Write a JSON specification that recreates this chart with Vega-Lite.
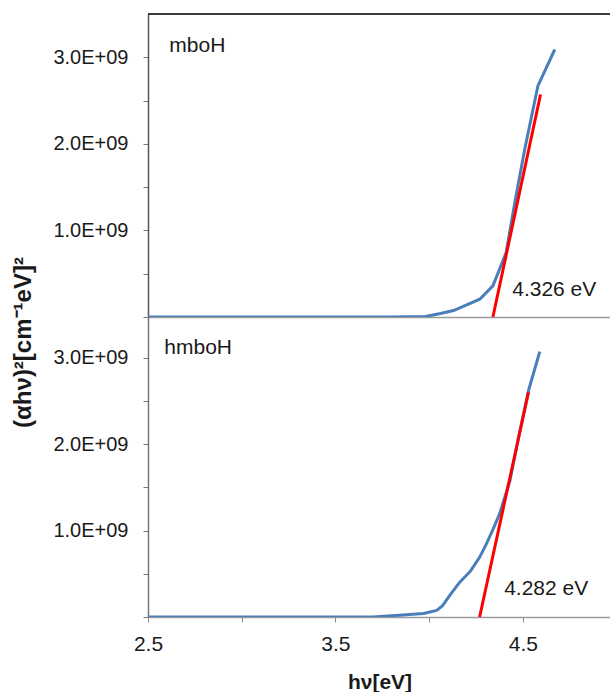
{
  "$schema": "https://vega.github.io/schema/vega-lite/v6.json",
  "padding": {"left": 10, "top": 13, "right": 0, "bottom": 0},
  "background": "white",
  "config": {
    "font": "Liberation Sans",
    "view": {"stroke": null},
    "axis": {"grid": false, "labelFlush": false, "labelFont": "Liberation Sans", "titleFont": "Liberation Sans", "labelColor": "#1a1a1a", "titleColor": "#1a1a1a"}
  },
  "datasets": {
    "curves": [
      {"panel": "mboH", "hv": 2.5, "val": 0},
      {"panel": "mboH", "hv": 3.0, "val": 0},
      {"panel": "mboH", "hv": 3.5, "val": 0},
      {"panel": "mboH", "hv": 3.8, "val": 0},
      {"panel": "mboH", "hv": 3.98, "val": 5000000},
      {"panel": "mboH", "hv": 4.06, "val": 40000000},
      {"panel": "mboH", "hv": 4.13, "val": 75000000},
      {"panel": "mboH", "hv": 4.2, "val": 140000000},
      {"panel": "mboH", "hv": 4.27, "val": 205000000},
      {"panel": "mboH", "hv": 4.34, "val": 360000000},
      {"panel": "mboH", "hv": 4.41, "val": 740000000},
      {"panel": "mboH", "hv": 4.46, "val": 1360000000},
      {"panel": "mboH", "hv": 4.51, "val": 1940000000},
      {"panel": "mboH", "hv": 4.58, "val": 2670000000},
      {"panel": "mboH", "hv": 4.67, "val": 3090000000},
      {"panel": "hmboH", "hv": 2.5, "val": 0},
      {"panel": "hmboH", "hv": 3.0, "val": 0},
      {"panel": "hmboH", "hv": 3.5, "val": 0},
      {"panel": "hmboH", "hv": 3.7, "val": 0},
      {"panel": "hmboH", "hv": 3.86, "val": 23000000},
      {"panel": "hmboH", "hv": 3.97, "val": 40000000},
      {"panel": "hmboH", "hv": 4.04, "val": 77000000},
      {"panel": "hmboH", "hv": 4.07, "val": 127000000},
      {"panel": "hmboH", "hv": 4.11, "val": 250000000},
      {"panel": "hmboH", "hv": 4.162, "val": 400000000},
      {"panel": "hmboH", "hv": 4.22, "val": 530000000},
      {"panel": "hmboH", "hv": 4.269, "val": 690000000},
      {"panel": "hmboH", "hv": 4.304, "val": 840000000},
      {"panel": "hmboH", "hv": 4.34, "val": 1010000000},
      {"panel": "hmboH", "hv": 4.375, "val": 1190000000},
      {"panel": "hmboH", "hv": 4.43, "val": 1570000000},
      {"panel": "hmboH", "hv": 4.48, "val": 2110000000},
      {"panel": "hmboH", "hv": 4.53, "val": 2620000000},
      {"panel": "hmboH", "hv": 4.59, "val": 3070000000}
    ],
    "fits": [
      {"panel": "mboH", "hv": 4.34, "val": 0},
      {"panel": "mboH", "hv": 4.594, "val": 2570000000},
      {"panel": "hmboH", "hv": 4.269, "val": 0},
      {"panel": "hmboH", "hv": 4.53, "val": 2600000000}
    ],
    "labels": [
      {"panel": "mboH", "hv": 2.614, "val": 3130000000, "label": "mboH"},
      {"panel": "mboH", "hv": 4.443, "val": 310000000, "label": "4.326 eV"},
      {"panel": "hmboH", "hv": 2.587, "val": 3110000000, "label": "hmboH"},
      {"panel": "hmboH", "hv": 4.4, "val": 320000000, "label": "4.282 eV"}
    ],
    "frame": [{"top": 3500000000}]
  },
  "vconcat": [
    {
      "width": 463,
      "height": 303,
      "layer": [
        {
          "data": {"name": "frame"},
          "mark": {"type": "rule", "color": "#3a3a3a", "strokeWidth": 2},
          "encoding": {"y": {"field": "top", "type": "quantitative", "scale": {"domain": [0, 3500000000]}}}
        },
        {
          "data": {"name": "curves"},
          "transform": [{"filter": "datum.panel == 'mboH'"}],
          "mark": {"type": "line", "color": "#4a7ebb", "strokeWidth": 3, "clip": true},
          "encoding": {
            "x": {"field": "hv", "type": "quantitative", "scale": {"domain": [2.5, 4.97], "nice": false, "zero": false},
              "axis": {"title": null, "labels": false, "ticks": false, "domainColor": "#9a9a9a", "domainWidth": 1.5}},
            "y": {"field": "val", "type": "quantitative", "scale": {"domain": [0, 3500000000], "nice": false},
              "axis": {"title": null, "values": [0, 500000000, 1000000000, 1500000000, 2000000000, 2500000000, 3000000000],
                "labelExpr": "datum.value > 0 && datum.value % 1000000000 == 0 ? format(datum.value/1000000000, '.1f') + 'E+09' : ''",
                "labelFontSize": 20, "labelPadding": 15, "tickSize": 5, "tickColor": "#777", "domainColor": "#555", "domainWidth": 1.5}}
          }
        },
        {
          "data": {"name": "fits"},
          "transform": [{"filter": "datum.panel == 'mboH'"}],
          "mark": {"type": "line", "color": "#ff0000", "strokeWidth": 3},
          "encoding": {"x": {"field": "hv", "type": "quantitative"}, "y": {"field": "val", "type": "quantitative"}}
        },
        {
          "data": {"name": "labels"},
          "transform": [{"filter": "datum.panel == 'mboH'"}],
          "mark": {"type": "text", "align": "left", "baseline": "middle", "fontSize": 21, "color": "#1a1a1a", "font": "Liberation Sans"},
          "encoding": {"x": {"field": "hv", "type": "quantitative"}, "y": {"field": "val", "type": "quantitative"}, "text": {"field": "label"}}
        }
      ]
    },
    {
      "width": 463,
      "height": 300,
      "layer": [
        {
          "data": {"name": "curves"},
          "transform": [{"filter": "datum.panel == 'hmboH'"}],
          "mark": {"type": "line", "color": "#4a7ebb", "strokeWidth": 3, "clip": true},
          "encoding": {
            "x": {"field": "hv", "type": "quantitative", "scale": {"domain": [2.5, 4.97], "nice": false, "zero": false},
              "axis": {"title": "hν[eV]", "values": [2.5, 3.0, 3.5, 4.0, 4.5],
                "labelExpr": "round(datum.value*2) % 2 == 1 ? format(datum.value, '.1f') : ''",
                "labelFontSize": 21, "labelPadding": 11, "tickSize": 5, "tickColor": "#888", "domainColor": "#9a9a9a", "domainWidth": 1.5,
                "titleFontSize": 21, "titleFontWeight": "bold", "titlePadding": 17}},
            "y": {"field": "val", "type": "quantitative", "scale": {"domain": [0, 3470000000], "nice": false},
              "axis": {"title": "(αhν)²[cm⁻¹eV]²", "values": [0, 500000000, 1000000000, 1500000000, 2000000000, 2500000000, 3000000000],
                "labelExpr": "datum.value > 0 && datum.value % 1000000000 == 0 ? format(datum.value/1000000000, '.1f') + 'E+09' : ''",
                "labelFontSize": 20, "labelPadding": 15, "tickSize": 5, "tickColor": "#777", "domainColor": "#777", "domainWidth": 1.5,
                "titleFontSize": 24, "titleFontWeight": "bold", "titleAngle": 270, "titleX": -125, "titleY": 25,
                "titleAlign": "center", "titleBaseline": "middle"}}
          }
        },
        {
          "data": {"name": "fits"},
          "transform": [{"filter": "datum.panel == 'hmboH'"}],
          "mark": {"type": "line", "color": "#ff0000", "strokeWidth": 3},
          "encoding": {"x": {"field": "hv", "type": "quantitative"}, "y": {"field": "val", "type": "quantitative"}}
        },
        {
          "data": {"name": "labels"},
          "transform": [{"filter": "datum.panel == 'hmboH'"}],
          "mark": {"type": "text", "align": "left", "baseline": "middle", "fontSize": 21, "color": "#1a1a1a", "font": "Liberation Sans"},
          "encoding": {"x": {"field": "hv", "type": "quantitative"}, "y": {"field": "val", "type": "quantitative"}, "text": {"field": "label"}}
        }
      ]
    }
  ],
  "spacing": 0,
  "bounds": "flush"
}
